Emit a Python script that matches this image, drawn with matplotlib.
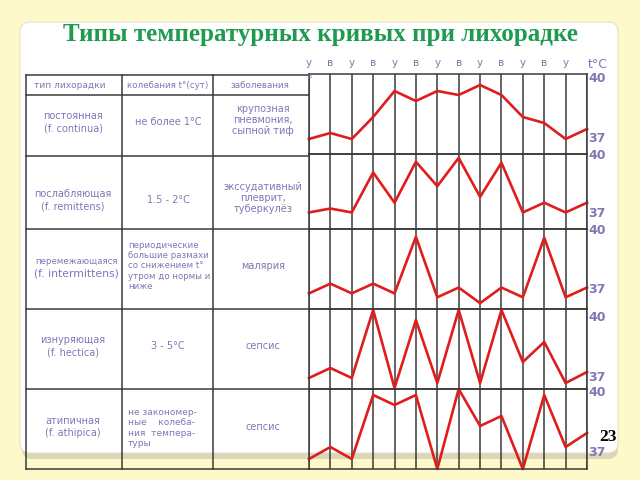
import matplotlib.pyplot as plt
from matplotlib.patches import FancyBboxPatch, Rectangle
from matplotlib.transforms import blended_transform_factory, offset_copy

momentos = ['у', 'в', 'у', 'в', 'у', 'в', 'у', 'в', 'у', 'в', 'у', 'в', 'у', '']
t_continua = [36.9, 37.2, 36.9, 38.0, 39.3, 38.8, 39.3, 39.1, 39.6, 39.1, 38.0, 37.7, 36.9, 37.4]
t_remittens = [37.0, 37.2, 37.0, 39.05, 37.5, 39.6, 38.35, 39.8, 37.8, 39.55, 37.0, 37.5, 37.0, 37.5]
t_intermittens = [36.7, 37.2, 36.7, 37.2, 36.7, 39.6, 36.5, 37.0, 36.2, 37.0, 36.5, 39.55, 36.5, 37.0]
t_hectica = [36.9, 37.4, 36.9, 40.3, 36.4, 39.8, 36.65, 40.3, 36.65, 40.3, 37.7, 38.7, 36.65, 37.2]
t_athipica = [36.6, 37.2, 36.6, 39.8, 39.3, 39.8, 36.1, 40.1, 38.25, 38.75, 36.1, 39.8, 37.2, 37.9]
curvas = [t_continua, t_remittens, t_intermittens, t_hectica, t_athipica]

encabezado = ['тип лихорадки', 'колебания t°(сут)', 'заболевания']
tipos = ['постоянная\n(f. continua)', 'послабляющая\n(f. remittens)', None,
         'изнуряющая\n(f. hectica)', 'атипичная\n(f. athipica)']
colebania = ['не более 1°C', '1.5 - 2°C', None, '3 - 5°C', None]
enfermedades = ['крупозная\nпневмония,\nсыпной тиф', 'экссудативный\nплеврит,\nтуберкулёз',
                'малярия', 'сепсис', 'сепсис']

# Disposición (píxeles)
filas_top = [74, 154, 229, 309, 389]
filas_bot = [154, 229, 309, 389, 469]
ylims = [(36.15, 40.15), (36.15, 39.9), (35.9, 39.9), (36.35, 40.35), (36.1, 40.1)]
x_izq, x_der = 309, 587

lila = '#7e78b6'
linea = '#3a3a3a'
rojo = '#e01c1c'

fig = plt.figure(figsize=(6.4, 4.8), dpi=100)
fig.patch.set_facecolor('#fef9cb')

bg = fig.add_axes([0, 0, 1, 1])
bg.set_xlim(0, 640)
bg.set_ylim(480, 0)
bg.axis('off')

# Panel blanco con sombra
bg.add_patch(FancyBboxPatch((22, 28), 596, 431, boxstyle='round,pad=0,rounding_size=10',
                            fc='#bdbaa8', ec='none', alpha=0.55))
bg.add_patch(FancyBboxPatch((20, 22), 598, 431, boxstyle='round,pad=0,rounding_size=10',
                            fc='white', ec='#e6e1c8', lw=0.8))

bg.text(320, 34, 'Типы температурных кривых при лихорадке', ha='center', va='center',
        fontsize=18, fontweight='bold', family='Liberation Serif', color='#1f9a4f')
bg.text(608, 437, '23', ha='center', va='center', fontsize=12.5, fontweight='bold',
        family='Liberation Serif', color='black')

# Líneas de la tabla
for y in [75, 95, 156, 229, 309, 389, 469]:
    bg.plot([26, x_izq], [y, y], color=linea, lw=1.1)
for x in [26, 122, 213]:
    bg.plot([x, x], [75, 469], color=linea, lw=1.1)

# Texto de la tabla
for x, s, fs in zip([70, 168, 260], encabezado, [6.5, 6.3, 6.3]):
    bg.text(x, 85, s, ha='center', va='center', fontsize=fs, color=lila)

ys_fila = [122, 200, 266, 346, 427]
for i, y in enumerate(ys_fila):
    if tipos[i]:
        bg.text(73, y, tipos[i], ha='center', va='center', fontsize=7, color=lila,
                linespacing=1.3)
    if colebania[i]:
        bg.text(168, y, colebania[i], ha='center', va='center', fontsize=7, color=lila)
    bg.text(263, y - 2 if i < 2 else y, enfermedades[i], ha='center', va='center',
            fontsize=7, color=lila, linespacing=1.15)

bg.text(77, 262, 'перемежающаяся', ha='center', va='center', fontsize=6.2, color=lila)
bg.text(76, 274, '(f. intermittens)', ha='center', va='center', fontsize=7.8, color=lila)
celda = Rectangle((122, 229), 91, 80, transform=bg.transData)
txt = bg.text(128, 266, 'периодические\nбольшие размахи\nсо снижением t°\nутром до нормы и\nниже',
              ha='left', va='center', fontsize=6.2, color=lila, linespacing=1.2)
txt.set_clip_path(celda)
bg.text(128, 428, 'не закономер-\nные    колеба-\nния  темпера-\nтуры',
        ha='left', va='center', fontsize=6.5, color=lila, linespacing=1.15)

# Curvas de temperatura
ejes = []
for k, (t, b) in enumerate(zip(filas_top, filas_bot)):
    ax = fig.add_axes([x_izq / 640, 1 - b / 480, (x_der - x_izq) / 640, (b - t) / 480])
    ax.set_facecolor('none')
    ax.plot(range(len(curvas[k])), curvas[k], color=rojo, lw=1.9, clip_on=False)
    ax.set_xlim(0, 13)
    ax.set_ylim(*ylims[k])
    ax.set_xticks(range(14))
    ax.grid(axis='x', color=linea, lw=1.1)
    ax.tick_params(axis='x', length=0, labelbottom=False)
    ax.yaxis.tick_right()
    ax.set_yticks([37, 40])
    ax.set_yticklabels(['37', '40'])
    ax.tick_params(axis='y', length=0, pad=1, labelsize=9, labelcolor=lila)
    for lbl in ax.get_yticklabels():
        lbl.set_fontweight('bold')
    for sp in ax.spines.values():
        sp.set_color(linea)
        sp.set_linewidth(1.1)
    ejes.append(ax)

ax1 = ejes[0]
ax1.tick_params(axis='x', top=True, labeltop=True, length=0, pad=4, labelsize=7.5,
                labelcolor=lila)
ax1.set_xticklabels(momentos)
tr = blended_transform_factory(ax1.transData, ax1.transAxes)
ax1.text(13.05, 1.0, 't°C', transform=offset_copy(tr, fig=fig, y=6, units='dots'),
         ha='left', va='baseline', fontsize=9, color=lila)
ax1.text(0, 0.97, 'в', transform=tr, ha='center', va='center', fontsize=5, color=lila)

fig.savefig('out.png', dpi=100, facecolor=fig.get_facecolor())
